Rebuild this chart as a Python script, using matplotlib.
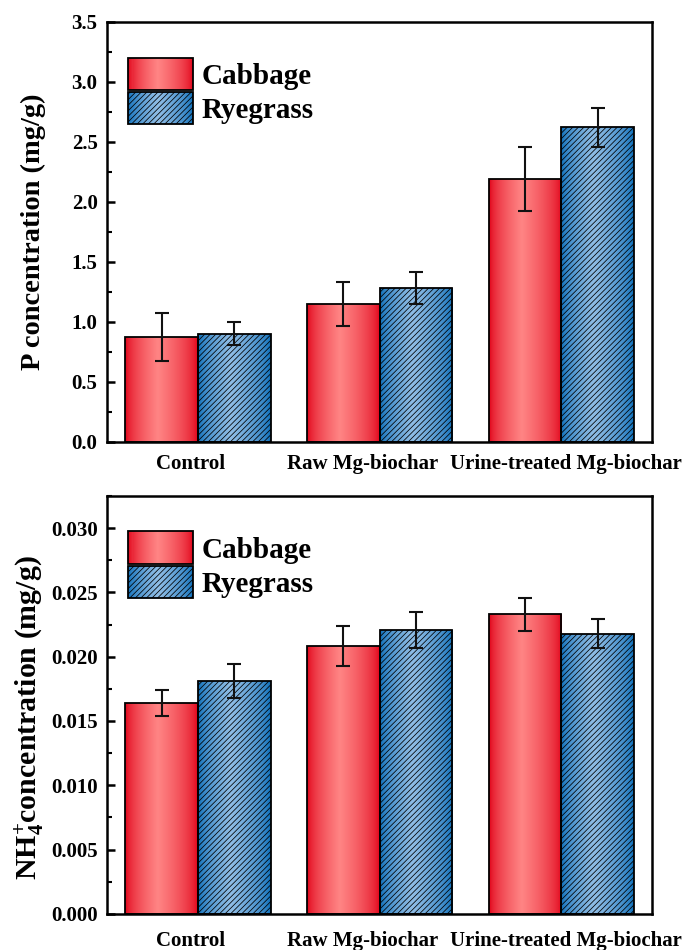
import numpy as np
import matplotlib
matplotlib.use('Agg')
from matplotlib import pyplot as plt
from matplotlib.patches import Rectangle
from matplotlib.legend_handler import HandlerBase
from matplotlib.ticker import MultipleLocator
from matplotlib.transforms import ScaledTranslation

groups = ['Control', 'Raw Mg-biochar', 'Urine-treated Mg-biochar']
series = ['Cabbage', 'Ryegrass']

p_cabbage = [0.87, 1.15, 2.19]
p_cabbage_err = [0.20, 0.185, 0.265]
p_ryegrass = [0.90, 1.28, 2.62]
p_ryegrass_err = [0.095, 0.135, 0.165]

nh4_cabbage = [0.0164, 0.0208, 0.0233]
nh4_cabbage_err = [0.0010, 0.00155, 0.0013]
nh4_ryegrass = [0.0181, 0.0221, 0.0218]
nh4_ryegrass_err = [0.0013, 0.0014, 0.0011]

# horizontal nudge of the category labels (pixels), as in the original layout
label_shift = [-8, -17, 5]

plt.rcParams['font.family'] = ['Liberation Serif', 'DejaVu Serif']
plt.rcParams['font.weight'] = 'bold'
plt.rcParams['mathtext.fontset'] = 'custom'
plt.rcParams['mathtext.rm'] = 'Liberation Serif:bold'
plt.rcParams['mathtext.bf'] = 'Liberation Serif:bold'
plt.rcParams['mathtext.it'] = 'Liberation Serif:bold'
plt.rcParams['hatch.linewidth'] = 0.55
plt.rcParams['hatch.color'] = '#1c3250'

red_dark = np.array([0.88, 0.0, 0.09])
red_light = np.array([1.0, 0.52, 0.52])
blue_dark = np.array([0.03, 0.42, 0.72])
blue_light = np.array([0.56, 0.74, 0.90])
HATCH = '//////'


def profile(n=64):
    t = np.linspace(0, 1, n)
    # bright band a little left of centre, dark at both edges
    s = np.where(t < 0.45, t / 0.45, (1 - t) / 0.55)
    return np.clip(s, 0, 1) ** 0.6


def gradient_colors(dark, light, n=64):
    s = profile(n)[:, None]
    return dark * (1 - s) + light * s


red_grad = gradient_colors(red_dark, red_light)
blue_grad = gradient_colors(blue_dark, blue_light)


def fill_gradient(ax, bars, grad):
    for b in bars:
        x0, y0 = b.get_x(), b.get_y()
        w, h = b.get_width(), b.get_height()
        im = ax.imshow(grad[None, :, :], extent=(x0, x0 + w, y0, y0 + h),
                       aspect='auto', interpolation='bilinear', zorder=1)
        im.set_clip_path(b)


class GradHandler(HandlerBase):
    def __init__(self, grad, hatch=None):
        super().__init__()
        self.grad = grad
        self.hatch = hatch

    def create_artists(self, legend, orig_handle, xdescent, ydescent,
                       width, height, fontsize, trans):
        arts = []
        n = len(self.grad)
        for i in range(n):
            r = Rectangle((-xdescent + width * i / n, -ydescent), width / n + 0.3, height,
                          facecolor=self.grad[i], edgecolor='none', transform=trans)
            arts.append(r)
        outline = Rectangle((-xdescent, -ydescent), width, height, facecolor='none',
                            edgecolor='black', linewidth=1.3, hatch=self.hatch,
                            transform=trans)
        arts.append(outline)
        return arts


def draw_panel(fig, ax, cab, cab_err, rye, rye_err, ylim, major, minor,
               ylabel, ylabel_size, xpad, label_y):
    x = np.arange(len(groups))
    w = 0.4
    b1 = ax.bar(x - w / 2, cab, w, facecolor='none', edgecolor='black', linewidth=1.3, zorder=2)
    b2 = ax.bar(x + w / 2, rye, w, facecolor='none', edgecolor='black', linewidth=1.3,
                hatch=HATCH, zorder=2)
    fill_gradient(ax, b1, red_grad)
    fill_gradient(ax, b2, blue_grad)
    ax.errorbar(x - w / 2, cab, yerr=cab_err, fmt='none', ecolor='#111111',
                elinewidth=1.5, capsize=5, capthick=1.5, zorder=3)
    ax.errorbar(x + w / 2, rye, yerr=rye_err, fmt='none', ecolor='#111111',
                elinewidth=1.5, capsize=5, capthick=1.5, zorder=3)

    ax.set_xlim(-0.5, 2.5)
    ax.set_ylim(*ylim)
    ax.yaxis.set_major_locator(MultipleLocator(major))
    ax.yaxis.set_minor_locator(MultipleLocator(minor))
    ax.set_xticks(x)
    ax.tick_params(axis='x', length=0, pad=xpad)
    ax.tick_params(axis='y', which='major', direction='in', length=6, width=1.8,
                   labelsize=15, pad=7)
    ax.tick_params(axis='y', which='minor', direction='in', length=3.5, width=1.5)
    ax.set_xticklabels(groups, fontsize=15, fontweight='bold')
    for lab, dx in zip(ax.get_xticklabels(), label_shift):
        lab.set_transform(lab.get_transform() + ScaledTranslation(dx / 100, 0, fig.dpi_scale_trans))
    for s in ax.spines.values():
        s.set_linewidth(1.8)
    ax.set_ylabel(ylabel, fontsize=ylabel_size, fontweight='bold')
    ax.yaxis.set_label_coords(-0.112, label_y)

    ax.legend([b1, b2], series, loc='upper left', bbox_to_anchor=(0.039, 0.915),
              frameon=False, handlelength=2.2, handleheight=1.35,
              labelspacing=0.05, handletextpad=0.3, borderpad=0, borderaxespad=0,
              handler_map={b1: GradHandler(red_grad), b2: GradHandler(blue_grad, HATCH)},
              prop={'weight': 'bold', 'size': 21})


fig = plt.figure(figsize=(6.83, 9.5), dpi=100)
ax1 = fig.add_axes([0.157, 0.535, 0.798, 0.442])
ax2 = fig.add_axes([0.157, 0.038, 0.798, 0.440])

draw_panel(fig, ax1, p_cabbage, p_cabbage_err, p_ryegrass, p_ryegrass_err,
           (0, 3.5), 0.5, 0.25, 'P concentration (mg/g)', 20.5, 9, 0.5)
draw_panel(fig, ax2, nh4_cabbage, nh4_cabbage_err, nh4_ryegrass, nh4_ryegrass_err,
           (0, 0.0325), 0.005, 0.0025, r'NH$_{4}^{+}$concentration (mg/g)', 21.5, 12.5, 0.47)

fig.savefig('out.png', dpi=100)
